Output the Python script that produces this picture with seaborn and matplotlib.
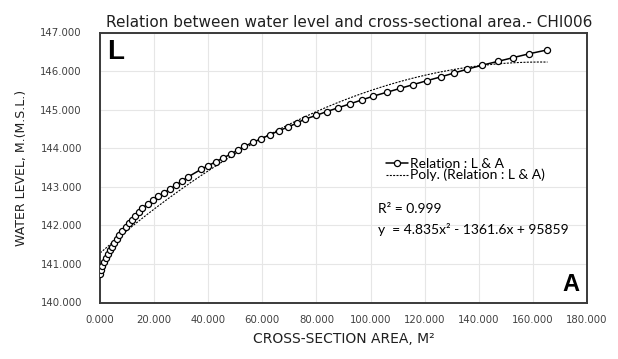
import numpy as np
import pandas as pd
import matplotlib
matplotlib.use("Agg")
import matplotlib.pyplot as plt
import seaborn as sns

# Cross-section area (m^2) against water level (m MSL) at station CHI006
area = [0.1, 0.4, 0.9, 1.6, 2.3, 3.0, 3.8, 4.5, 5.3, 6.2, 7.1, 8.3, 9.5, 10.7,
        11.8, 13.0, 14.3, 15.7, 17.6, 19.5, 21.6, 23.8, 26.0, 28.2, 30.3, 32.4,
        37.3, 40.1, 42.8, 45.6, 48.4, 50.9, 53.4, 56.5, 59.6, 62.9, 66.0, 69.5,
        72.7, 75.6, 79.9, 83.8, 88.1, 92.4, 96.7, 101.0, 106.0, 110.9, 115.8,
        120.8, 126.0, 130.9, 135.8, 141.1, 147.0, 152.8, 158.7, 165.4]
level = [140.75, 140.85, 140.95, 141.05, 141.15, 141.25, 141.35, 141.45, 141.55,
         141.65, 141.75, 141.85, 141.95, 142.05, 142.15, 142.25, 142.35, 142.45,
         142.55, 142.65, 142.75, 142.85, 142.95, 143.05, 143.15, 143.25, 143.45,
         143.55, 143.65, 143.75, 143.85, 143.95, 144.05, 144.15, 144.25, 144.35,
         144.45, 144.55, 144.65, 144.75, 144.85, 144.95, 145.05, 145.15, 145.25,
         145.35, 145.45, 145.55, 145.65, 145.75, 145.85, 145.95, 146.05, 146.15,
         146.25, 146.35, 146.45, 146.55]

x_ticks = [0, 20, 40, 60, 80, 100, 120, 140, 160, 180]
y_ticks = [140, 141, 142, 143, 144, 145, 146, 147]

title = "Relation between water level and cross-sectional area.- CHI006"
series_name = "Relation : L & A"
trend_name = "Poly. (Relation : L & A)"
r2_text = "R\u00b2 = 0.999"
eq_text = "y  = 4.835x\u00b2 - 1361.6x + 95859"

df = pd.DataFrame({"area": area, "level": level})

# Second-order polynomial trend of level on area
coef = np.polyfit(df["area"], df["level"], 2)
trend_x = np.linspace(df["area"].min(), df["area"].max(), 200)
trend = pd.DataFrame({"area": trend_x, "level": np.polyval(coef, trend_x)})

sns.set_theme(style="white")
plt.rcParams["font.family"] = ["DejaVu Sans"]
plt.rcParams["text.color"] = "black"

fig = plt.figure(figsize=(6.18, 3.59), dpi=100)
ax = fig.add_axes([100 / 618, 1 - 302.5 / 359, 487 / 618, 270 / 359])

sns.lineplot(data=trend, x="area", y="level", ax=ax, color="black",
             linewidth=0.8, linestyle=(0, (1.8, 1.2)), label=trend_name, zorder=2)
sns.lineplot(data=df, x="area", y="level", ax=ax, color="black", linewidth=1.1,
             marker="o", markersize=4.4, markerfacecolor="white",
             markeredgecolor="black", markeredgewidth=0.9, label=series_name,
             zorder=3)

ax.set_xlim(0, 180)
ax.set_ylim(140, 147)
ax.set_xticks(x_ticks)
ax.set_yticks(y_ticks)
ax.set_xticklabels([f"{v:.3f}" for v in x_ticks], fontsize=7.3, color="#404040")
ax.set_yticklabels([f"{v:.3f}" for v in y_ticks], fontsize=7.3, color="#404040")
ax.tick_params(axis="both", length=0)
ax.tick_params(axis="x", pad=9)
ax.tick_params(axis="y", pad=13)

ax.grid(True, color="#e6e6e6", linewidth=0.8)
ax.set_axisbelow(True)
for s in ax.spines.values():
    s.set_color("#3a3a3a")
    s.set_linewidth(1.4)

ax.set_xlabel("CROSS-SECTION AREA, M\u00b2", fontsize=10, color="#202020",
              labelpad=5)
ax.set_ylabel("WATER LEVEL, M.(M.S.L.)", fontsize=9, color="#202020",
              labelpad=9)
ax.set_title(title, fontsize=11, color="#202020", pad=4, x=0.512)

# Legend: data series first, trend below it
handles, labels = ax.get_legend_handles_labels()
order = [labels.index(series_name), labels.index(trend_name)]
leg = ax.legend([handles[i] for i in order], [labels[i] for i in order],
                loc="upper left", bbox_to_anchor=(0.575, 0.555), frameon=False,
                handlelength=1.6, handletextpad=0.15, labelspacing=-0.1,
                borderaxespad=0, prop={"family": "Lato", "size": 10})
for t in leg.get_texts():
    t.set_color("black")

ax.text(0.571, 0.345, r2_text, transform=ax.transAxes, fontsize=10,
        family="Lato", color="black", va="center")
ax.text(0.571, 0.27, eq_text, transform=ax.transAxes, fontsize=10,
        family="Lato", color="black", va="center")

ax.text(0.015, 0.975, "L", transform=ax.transAxes, fontsize=20,
        fontweight="bold", family="Liberation Sans", color="black",
        va="top", ha="left")
ax.text(0.985, 0.025, "A", transform=ax.transAxes, fontsize=17,
        fontweight="bold", family="Liberation Sans", color="black",
        va="bottom", ha="right")

fig.savefig("out.png", dpi=100)
